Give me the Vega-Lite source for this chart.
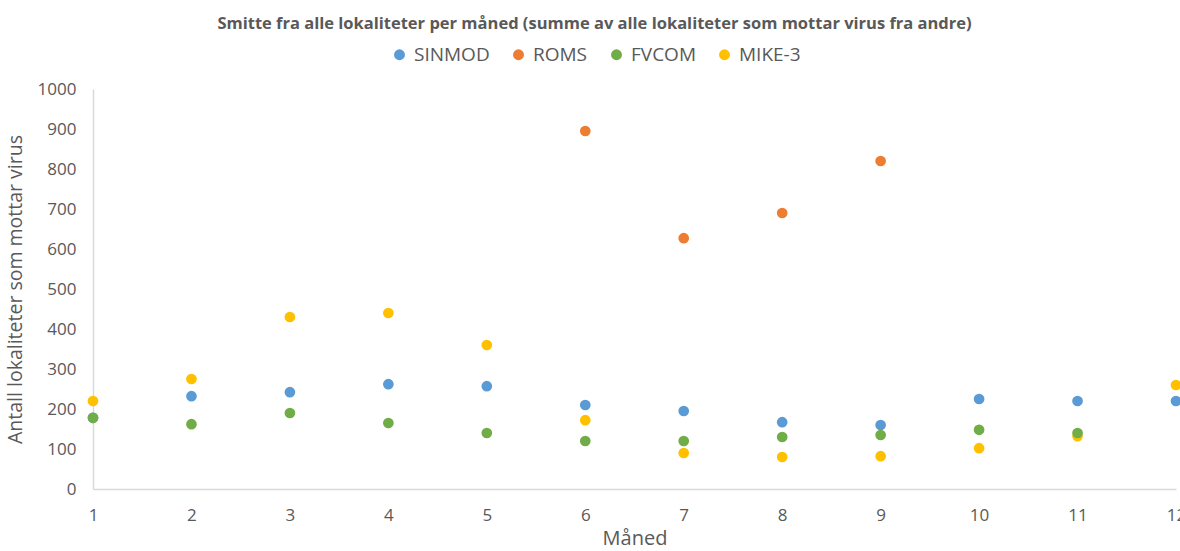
{
  "$schema": "https://vega.github.io/schema/vega-lite/v6.json",
  "autosize": "none",
  "width": 1083,
  "height": 400,
  "padding": {"left": 93, "top": 89, "right": 4, "bottom": 62},
  "background": "white",
  "title": {
    "text": "Smitte fra alle lokaliteter per måned (summe av alle lokaliteter som mottar virus fra andre)",
    "anchor": "middle",
    "dx": -40,
    "offset": 13,
    "font": "Open Sans",
    "fontSize": 16.5,
    "fontWeight": "bold",
    "color": "#595959"
  },
  "data": {
    "values": [
      {"month": 1, "model": "SINMOD", "value": 178},
      {"month": 1, "model": "FVCOM", "value": 178},
      {"month": 1, "model": "MIKE-3", "value": 220},
      {"month": 2, "model": "SINMOD", "value": 232},
      {"month": 2, "model": "FVCOM", "value": 162},
      {"month": 2, "model": "MIKE-3", "value": 275},
      {"month": 3, "model": "SINMOD", "value": 242},
      {"month": 3, "model": "FVCOM", "value": 190},
      {"month": 3, "model": "MIKE-3", "value": 430},
      {"month": 4, "model": "SINMOD", "value": 262},
      {"month": 4, "model": "FVCOM", "value": 165},
      {"month": 4, "model": "MIKE-3", "value": 440},
      {"month": 5, "model": "SINMOD", "value": 257},
      {"month": 5, "model": "FVCOM", "value": 140},
      {"month": 5, "model": "MIKE-3", "value": 360},
      {"month": 6, "model": "SINMOD", "value": 210},
      {"month": 6, "model": "ROMS", "value": 895},
      {"month": 6, "model": "FVCOM", "value": 120},
      {"month": 6, "model": "MIKE-3", "value": 172},
      {"month": 7, "model": "SINMOD", "value": 195},
      {"month": 7, "model": "ROMS", "value": 627},
      {"month": 7, "model": "FVCOM", "value": 120},
      {"month": 7, "model": "MIKE-3", "value": 90},
      {"month": 8, "model": "SINMOD", "value": 167},
      {"month": 8, "model": "ROMS", "value": 690},
      {"month": 8, "model": "FVCOM", "value": 130},
      {"month": 8, "model": "MIKE-3", "value": 80},
      {"month": 9, "model": "SINMOD", "value": 160},
      {"month": 9, "model": "ROMS", "value": 820},
      {"month": 9, "model": "FVCOM", "value": 135},
      {"month": 9, "model": "MIKE-3", "value": 82},
      {"month": 10, "model": "SINMOD", "value": 225},
      {"month": 10, "model": "FVCOM", "value": 148},
      {"month": 10, "model": "MIKE-3", "value": 102},
      {"month": 11, "model": "SINMOD", "value": 220},
      {"month": 11, "model": "FVCOM", "value": 140},
      {"month": 11, "model": "MIKE-3", "value": 132},
      {"month": 12, "model": "SINMOD", "value": 220},
      {"month": 12, "model": "MIKE-3", "value": 260}
    ]
  },
  "mark": {"type": "point", "filled": true, "opacity": 1, "size": 115},
  "encoding": {
    "x": {
      "field": "month",
      "type": "quantitative",
      "scale": {"domain": [1, 12], "nice": false, "zero": false},
      "axis": {
        "title": "Måned",
        "values": [1, 2, 3, 4, 5, 6, 7, 8, 9, 10, 11, 12],
        "format": "d",
        "grid": false,
        "ticks": false,
        "domainColor": "#d9d9d9",
        "domainWidth": 1.5,
        "labelFont": "Open Sans",
        "labelFontSize": 17,
        "labelColor": "#595959",
        "labelPadding": 18,
        "labelFlush": false,
        "titleFont": "Open Sans",
        "titleFontSize": 20,
        "titleFontWeight": "normal",
        "titleColor": "#595959",
        "titlePadding": 5
      }
    },
    "y": {
      "field": "value",
      "type": "quantitative",
      "scale": {"domain": [0, 1000], "nice": false},
      "axis": {
        "title": "Antall lokaliteter som mottar virus",
        "values": [0, 100, 200, 300, 400, 500, 600, 700, 800, 900, 1000],
        "format": "d",
        "grid": false,
        "ticks": false,
        "domainColor": "#d9d9d9",
        "domainWidth": 1.5,
        "labelFont": "Open Sans",
        "labelFontSize": 17,
        "labelColor": "#595959",
        "labelPadding": 17,
        "labelFlush": false,
        "titleFont": "Open Sans",
        "titleFontSize": 19.5,
        "titleFontWeight": "normal",
        "titleColor": "#595959",
        "titlePadding": 12
      }
    },
    "color": {
      "field": "model",
      "type": "nominal",
      "scale": {
        "domain": ["SINMOD", "ROMS", "FVCOM", "MIKE-3"],
        "range": ["#5B9BD5", "#ED7D31", "#70AD47", "#FFC000"]
      },
      "legend": {
        "title": null,
        "orient": "none",
        "direction": "horizontal",
        "legendX": 297,
        "legendY": -44,
        "symbolType": "circle",
        "symbolSize": 120,
        "labelFont": "Open Sans",
        "labelFontSize": 19,
        "labelColor": "#595959",
        "labelOffset": 5,
        "columnPadding": 19
      }
    },
    "order": {"field": "model", "sort": "descending"}
  },
  "config": {"view": {"stroke": null}}
}
